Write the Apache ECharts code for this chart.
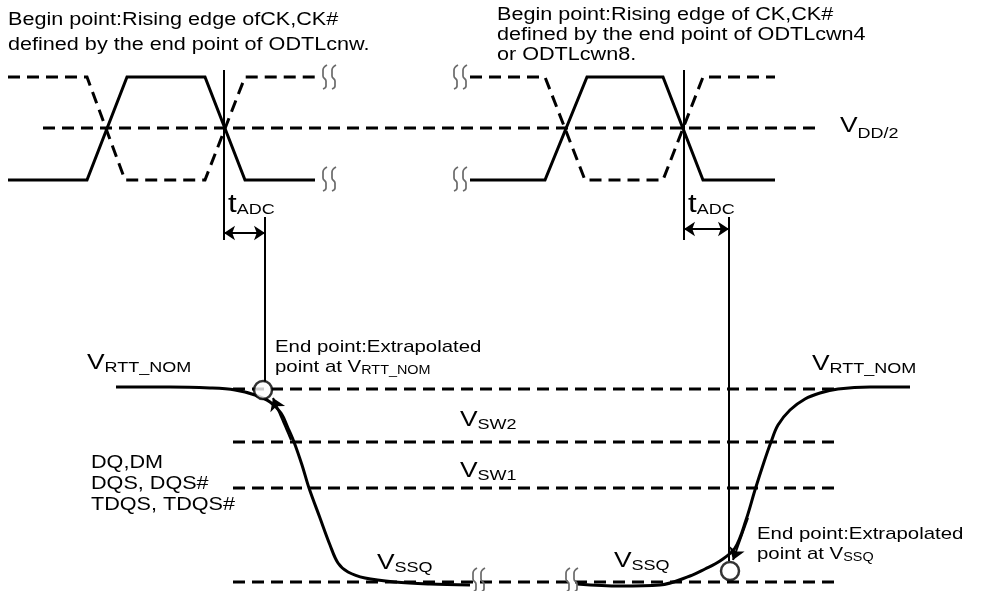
<!DOCTYPE html>
<html><head><meta charset="utf-8">
<script src="https://cdn.jsdelivr.net/npm/echarts@6/dist/echarts.min.js"></script>
<style>html,body{margin:0;padding:0;background:#fff}#c{width:991px;height:591px}</style>
</head><body><div id="c"></div>
<script>
// ---- waveform data (diagram coordinates: x to the right, y downward) ----
const ck1 = [[8,180],[87,180],[127,77],[205,77],[245,180],[315,180]];
const ck1b = [[8,77],[87,77],[125,180],[205,180],[245,77],[315,77]];
const ck2 = [[470,180],[545,180],[587,77],[663,77],[703,180],[775,180]];
const ck2b = [[470,77],[545,77],[585,180],[663,180],[703,77],[775,77]];
const vddHalf = [[43,128],[820,128]];
const vrttLine = [[233,389],[835,389]];
const vsw2Line = [[233,442],[838,442]];
const vsw1Line = [[233,488],[838,488]];
const vssqLine = [[233,582],[838,582]];
const clkMark1 = [[224,70],[224,240]];
const clkMark2 = [[684,70],[684,240]];
const endMark1 = [[265,217],[265,382]];
const endMark2 = [[729,217],[729,561]];
const tadcArrows = [[[224,233],[265,233]],[[684,229],[729,229]]];
const dqFall = [[116,387],[170,387],[210,388],[235,390],[255,395],[270,402],[281,413],[288,428],[294,442],[302,465],[309,488],[320,518],[330,545],[338,563],[348,572],[365,578],[395,582],[430,584],[470,585]];
const dqRise = [[577,584],[620,586],[660,585],[690,576],[705,569],[720,561],[735,548],[746,520],[755,490],[764,462],[771,442],[778,425],[790,410],[805,399],[820,393],[838,389],[870,387],[910,387]];
const endCircles = [[263,390],[730,571]];
const slopeArrows = [[[291,440],[273,398]],[[748,518],[733,560]]];
const breakMarks = [[324,77],[333,77],[324,179],[333,179],[455,77],[464,77],[455,179],[464,179],[474,580],[482,580],[567,580],[575,580]];
const waveShape = [[3,-12],[-1,-7],[-1,-1],[2,4],[2,9],[-1,12]];

// ---- text annotations ----
const texts = [
  {x:8, base:26, F:18, t:'{a|Begin point:Rising edge ofCK,CK#}'},
  {x:8, base:51, F:18, t:'{a|defined by the end point of ODTLcnw.}'},
  {x:497, base:21, F:18, t:'{a|Begin point:Rising edge of CK,CK#}'},
  {x:497, base:41, F:18, t:'{a|defined by the end point of ODTLcwn4}'},
  {x:497, base:61, F:18, t:'{a|or ODTLcwn8.}'},
  {x:840, base:133, F:22, S:15, d:5, t:'{a|V}{b|DD/2}'},
  {x:228, base:213, F:26, S:15, d:1, t:'{a|t}{b|ADC}'},
  {x:688, base:213, F:26, S:15, d:1, t:'{a|t}{b|ADC}'},
  {x:87, base:370, F:22, S:15, d:2, t:'{a|V}{b|RTT_NOM}'},
  {x:812, base:371, F:22, S:15, d:2, t:'{a|V}{b|RTT_NOM}'},
  {x:275, base:353, F:17, t:'{a|End point:Extrapolated}'},
  {x:275, base:373, F:17, S:12, d:1, t:'{a|point at V}{b|RTT_NOM}'},
  {x:460, base:427, F:22, S:15, d:2, t:'{a|V}{b|SW2}'},
  {x:460, base:478, F:22, S:15, d:2, t:'{a|V}{b|SW1}'},
  {x:91, base:469, F:18, t:'{a|DQ,DM}'},
  {x:91, base:490, F:18, t:'{a|DQS, DQS#}'},
  {x:91, base:511, F:18, t:'{a|TDQS, TDQS#}'},
  {x:377, base:570, F:22, S:15, d:2, t:'{a|V}{b|SSQ}'},
  {x:614, base:568, F:22, S:15, d:2, t:'{a|V}{b|SSQ}'},
  {x:757, base:540, F:17, t:'{a|End point:Extrapolated}'},
  {x:757, base:560, F:17, S:12, d:1, t:'{a|point at V}{b|SSQ}'}
];

const FONT = '"Liberation Sans", Arial, Helvetica, sans-serif';
const chart = echarts.init(document.getElementById('c'), null, {renderer:'canvas'});

function seg(data, width, dashed, z, color) {
  return {type:'line', data:data, symbol:'none', silent:true, clip:false, z:z||2,
    lineStyle:{color:color||'#000', width:width, type: dashed ? [12,7] : 'solid', cap:'butt', join:'miter'}};
}
function curve(data) {
  return {type:'line', data:data, symbol:'none', silent:true, clip:false, z:4, smooth:0.35,
    lineStyle:{color:'#000', width:3, type:'solid'}};
}
const series = [
  seg(vddHalf, 3, true), seg(ck1b, 3, true), seg(ck2b, 3, true),
  seg(ck1, 3, false, 3), seg(ck2, 3, false, 3),
  seg(clkMark1, 2, false), seg(clkMark2, 2, false), seg(endMark1, 2, false), seg(endMark2, 2, false),
  seg(vrttLine, 3, true), seg(vsw2Line, 3, true), seg(vsw1Line, 3, true), seg(vssqLine, 3, true),
  curve(dqFall), curve(dqRise),
  {type:'lines', coordinateSystem:'cartesian2d', silent:true, z:5,
    data: tadcArrows.map(c => ({coords:c})), symbol:['arrow','arrow'], symbolSize:11,
    lineStyle:{color:'#000', width:2, opacity:1, curveness:0}},
  {type:'lines', coordinateSystem:'cartesian2d', silent:true, z:5,
    data: slopeArrows.map(c => ({coords:c})), symbol:['none','arrow'], symbolSize:12,
    lineStyle:{color:'#000', width:2, opacity:1, curveness:0}},
  {type:'scatter', data:endCircles, symbol:'circle', symbolSize:18, silent:true, z:8,
    itemStyle:{color:'#fff', borderColor:'#000', borderWidth:2.5}}
];
breakMarks.forEach(([cx,cy]) => {
  series.push({type:'line', data: waveShape.map(([dx,dy]) => [cx+dx, cy+dy]), symbol:'none',
    silent:true, clip:false, smooth:0.5, z:6, lineStyle:{color:'#6a6a6a', width:1.7}});
});

chart.setOption({
  animation:false,
  backgroundColor:'#fff',
  grid:{left:0, right:0, top:0, bottom:0},
  xAxis:{type:'value', min:0, max:991, show:false},
  yAxis:{type:'value', min:0, max:591, inverse:true, show:false},
  series: series
});

const SX = 1.2;
const graphics = texts.map(o => {
  const F = o.F, S = o.S || 12, d = o.d || 0;
  const p = chart.convertToPixel({gridIndex:0}, [o.x, o.base]);
  const P = Math.max(0, Math.round(0.81*(F - S) + d));
  return {type:'text', x:p[0], y:p[1] - 0.81*F, scaleX:SX, z:20, silent:true,
    style:{text:o.t, fill:'#000', fontFamily:FONT, fontSize:F,
      align:'left', verticalAlign:'top', textAlign:'left', textVerticalAlign:'top',
      rich:{
        a:{fontSize:F, lineHeight:F, fontFamily:FONT, verticalAlign:'top', fill:'#000'},
        b:{fontSize:S, lineHeight:S, fontFamily:FONT, verticalAlign:'top', padding:[P,0,0,0], fill:'#000'}
      }}};
});
chart.setOption({graphic: graphics});
</script>
</body></html>
